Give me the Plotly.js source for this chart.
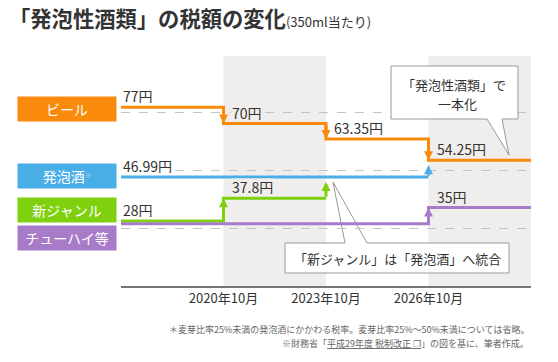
<!DOCTYPE html>
<html>
<head>
<meta charset="utf-8">
<script src="https://cdn.plot.ly/plotly-3.0.1.min.js"></script>
<style>html,body{margin:0;padding:0;background:#fff;}#chart{width:558px;height:362px;}</style>
</head>
<body>
<div id="chart"></div>
<script>
// ---- data ----
const xPos = [0, 1, 2, 3, 4];
const tickPos = [1, 2, 3];
const tickLabels = ['2020年10月', '2023年10月', '2026年10月'];
const categories = ['ビール', '発泡酒', '新ジャンル', 'チューハイ等'];
const beer = [77, 70, 63.35, 54.25, 54.25];
const happoshu = [46.99, 46.99, 46.99, 46.99];      // merges into beer at x=3
const newGenre = [28, 37.8, 37.8];                   // merges into happoshu at x=2
const chuhai = [28, 28, 28, 35, 35];
const gridVals = [25, 50, 75, 100];

// ---- style ----
const FONT = '"Noto Sans CJK JP", "Noto Sans", sans-serif';
const C = {orange: '#f98a0c', blue: '#4aaee6', green: '#7fd00e', purple: '#a87bc9', band: '#f0eeec', text: '#333'};
const L = 121, R = 531, T = 54, B = 286;
const px2x = px => (px - L) / (R - L);
const py2y = py => (B - py) / (B - T);
const dx = px => (px - L) / ((R - L) / 4);
const dy = py => (B - py) / ((B - T) / 100);

const traces = [
  {x: xPos, y: chuhai, yaxis: 'y2', mode: 'lines', line: {shape: 'hv', color: C.purple, width: 3}, hoverinfo: 'skip'},
  {x: xPos.slice(0, newGenre.length), y: newGenre, mode: 'lines', line: {shape: 'hv', color: C.green, width: 3}, hoverinfo: 'skip'},
  {x: xPos.slice(0, happoshu.length), y: happoshu, mode: 'lines', line: {shape: 'hv', color: C.blue, width: 3}, hoverinfo: 'skip'},
  {x: xPos, y: beer, mode: 'lines', line: {shape: 'hv', color: C.orange, width: 3}, hoverinfo: 'skip'}
];

const annotations = [];
const bandColor = i => (i === 1 || i === 3) ? C.band : '#ffffff';
function arrow(x, y0, y1, color, yref, standoff) {
  annotations.push({x: x, y: y1, ax: x, ay: y0, xref: 'x', yref: yref, axref: 'x', ayref: yref,
    text: '', showarrow: true, arrowhead: 2, arrowsize: 0.6, arrowwidth: 3, arrowcolor: color, standoff: standoff || 0});
}
function label(x, v, yref) {
  annotations.push({x: x, y: v, xref: 'x', yref: yref, text: v + '円', showarrow: false,
    xanchor: 'left', yanchor: 'middle', xshift: x === 0 ? 0 : 6, yshift: 11, height: 14,
    bgcolor: bandColor(x), borderpad: 1, font: {size: 14, color: C.text}});
}
function steps(vals, color, yref, labelStart) {
  if (labelStart) label(0, vals[0], yref);
  for (let i = 1; i < vals.length; i++) {
    if (vals[i] !== vals[i - 1]) { arrow(i, vals[i - 1], vals[i], color, yref); label(i, vals[i], yref); }
  }
}
steps(beer, C.orange, 'y', true);
steps(happoshu, C.blue, 'y', true);
steps(newGenre, C.green, 'y', true);
steps(chuhai, C.purple, 'y2', false);
// merge arrows
arrow(happoshu.length - 1, happoshu[happoshu.length - 1], beer[happoshu.length - 1], C.blue, 'y', 5);
arrow(newGenre.length - 1, newGenre[newGenre.length - 1], happoshu[newGenre.length - 1], C.green, 'y', 5);

// category boxes
const boxColors = [C.orange, C.blue, C.green, C.purple];
const boxY = [109, 176, 209.5, 237.5];
categories.forEach((c, i) => {
  annotations.push({xref: 'paper', yref: 'paper', x: px2x(67), y: py2y(boxY[i]), xanchor: 'center', yanchor: 'middle',
    text: c === '発泡酒' ? c + '<span style="font-size:9px;color:#b9dcf3"><sup>※</sup></span>' : c,
    showarrow: false, bgcolor: boxColors[i], width: 98, height: 24, borderpad: 0,
    font: {size: 14, color: '#ffffff'}});
});

// callout texts
annotations.push({xref: 'paper', yref: 'paper', x: px2x(454), y: py2y(84), xanchor: 'center', yanchor: 'middle',
  text: '「発泡性酒類」で', showarrow: false, font: {size: 13, color: C.text}});
annotations.push({xref: 'paper', yref: 'paper', x: px2x(457), y: py2y(103.5), xanchor: 'center', yanchor: 'middle',
  text: '一本化', showarrow: false, font: {size: 13, color: C.text}});
annotations.push({xref: 'paper', yref: 'paper', x: px2x(397), y: py2y(258), xanchor: 'center', yanchor: 'middle',
  text: '「新ジャンル」は「発泡酒」へ統合', showarrow: false, font: {size: 13, color: C.text}});

// footnotes
annotations.push({xref: 'paper', yref: 'paper', x: px2x(531), y: py2y(329), xanchor: 'right', yanchor: 'middle',
  text: '＊麦芽比率25%未満の発泡酒にかかわる税率。麦芽比率25%～50%未満については省略。', showarrow: false,
  font: {size: 9, color: '#666'}});
annotations.push({xref: 'paper', yref: 'paper', x: px2x(531), y: py2y(343), xanchor: 'right', yanchor: 'middle',
  text: '※財務省「<u>平成29年度 税制改正 ❐</u>」の図を基に、筆者作成。', showarrow: false,
  font: {size: 9, color: '#666'}});

function pathOf(pts) {
  return 'M' + pts.map(p => dx(p[0]) + ',' + dy(p[1])).join('L') + 'Z';
}
const shapes = [
  {type: 'rect', xref: 'x', yref: 'y', x0: 1, x1: 2, y0: 0, y1: 99, fillcolor: C.band, line: {width: 0}, layer: 'below'},
  {type: 'rect', xref: 'x', yref: 'y', x0: 3, x1: 4, y0: 0, y1: 99, fillcolor: C.band, line: {width: 0}, layer: 'below'},
  {type: 'path', xref: 'x', yref: 'y', layer: 'below', fillcolor: '#ffffff', line: {color: '#999', width: 1},
    path: pathOf([[285, 243], [345, 243], [333, 182], [367, 243], [509, 243], [509, 273], [285, 273]])},
  {type: 'path', xref: 'x', yref: 'y', layer: 'above', fillcolor: '#ffffff', line: {color: '#999', width: 1},
    path: pathOf([[391, 66], [518, 66], [518, 119], [502, 119], [509, 155], [487, 119], [391, 119]])}
];

const layout = {
  width: 558, height: 362,
  margin: {l: L, r: 558 - R, t: T, b: 362 - B},
  paper_bgcolor: '#ffffff', plot_bgcolor: 'rgba(0,0,0,0)',
  font: {family: FONT, color: C.text},
  showlegend: false,
  title: {text: '<b>「発泡性酒類」の税額の変化</b><span style="font-size:13px">(350ml当たり)</span>',
    font: {size: 21.3, color: C.text, family: FONT}, xref: 'container', yref: 'container',
    x: 9 / 558, xanchor: 'left', y: 1 - 20 / 362, yanchor: 'middle'},
  xaxis: {range: [0, 4], tickvals: tickPos, ticktext: tickLabels, showgrid: false, zeroline: false,
    showline: true, linecolor: '#777', linewidth: 1.5, ticks: '', tickfont: {size: 13, color: C.text}, fixedrange: true},
  yaxis: {range: [0, 100], tickvals: gridVals, showticklabels: false, showgrid: true, gridcolor: '#c4c4c4',
    griddash: 'dash', gridwidth: 1, zeroline: false, showline: false, ticks: '', fixedrange: true},
  yaxis2: {range: [1.2, 101.2], overlaying: 'y', visible: false, showgrid: false, zeroline: false, fixedrange: true},
  shapes: shapes,
  annotations: annotations
};

Plotly.newPlot('chart', traces, layout, {staticPlot: true, displayModeBar: false});
</script>
</body>
</html>
